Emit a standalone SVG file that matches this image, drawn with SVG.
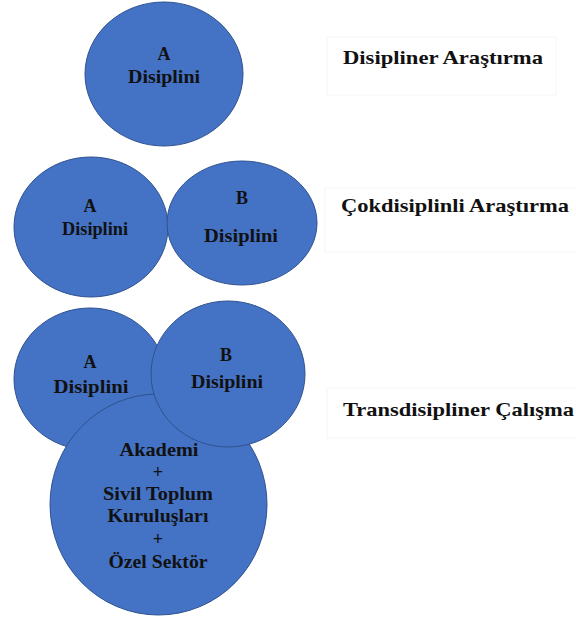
<svg xmlns="http://www.w3.org/2000/svg" width="576" height="618" viewBox="0 0 576 618">
<style>
.c{fill:#4472C4;stroke:#2F528F;stroke-width:1}
.t{font-family:"Liberation Serif","Times New Roman",serif;font-weight:bold;font-size:18px;fill:#111;text-anchor:middle}
.l{font-family:"Liberation Serif","Times New Roman",serif;font-weight:bold;font-size:19px;fill:#111}
.b{fill:none;stroke:#f6f6f6;stroke-width:1}
</style>
<rect width="576" height="618" fill="#fff"/>
<g id="label1"><rect class="b" x="327" y="37" width="229" height="58"/><text class="l" x="343" y="64" textLength="200" lengthAdjust="spacingAndGlyphs">Disipliner Araştırma</text></g>
<g id="label2"><rect class="b" x="325" y="188" width="255" height="64"/><text class="l" x="341" y="212" textLength="228" lengthAdjust="spacingAndGlyphs">Çokdisiplinli Araştırma</text></g>
<g id="label3"><rect class="b" x="327" y="388" width="255" height="50"/><text class="l" x="343" y="416" textLength="231" lengthAdjust="spacingAndGlyphs">Transdisipliner Çalışma</text></g>
<g id="top-a"><ellipse class="c" cx="164" cy="74" rx="79" ry="72"/><text class="t" x="164" y="60">A</text><text class="t" x="164" y="83" textLength="72" lengthAdjust="spacingAndGlyphs">Disiplini</text></g>
<g id="mid-a"><ellipse class="c" cx="91" cy="227" rx="77" ry="70"/><text class="t" x="90" y="212">A</text><text class="t" x="95" y="235" textLength="66" lengthAdjust="spacingAndGlyphs">Disiplini</text></g>
<g id="mid-b"><ellipse class="c" cx="242" cy="223" rx="75" ry="62"/><text class="t" x="242" y="204">B</text><text class="t" x="241" y="242" textLength="74" lengthAdjust="spacingAndGlyphs">Disiplini</text></g>
<g id="bot-a"><ellipse class="c" cx="90" cy="379" rx="76" ry="71"/><text class="t" x="90" y="368">A</text><text class="t" x="91" y="393" textLength="75" lengthAdjust="spacingAndGlyphs">Disiplini</text></g>
<g id="bot-all"><ellipse class="c" cx="158.5" cy="504.5" rx="108.5" ry="110.5"/>
<text class="t" x="159" y="456" textLength="79" lengthAdjust="spacingAndGlyphs">Akademi</text><text class="t" x="158" y="478">+</text><text class="t" x="158" y="500" textLength="110" lengthAdjust="spacingAndGlyphs">Sivil Toplum</text><text class="t" x="158" y="522" textLength="101" lengthAdjust="spacingAndGlyphs">Kuruluşları</text><text class="t" x="158" y="545">+</text><text class="t" x="158" y="568" textLength="99" lengthAdjust="spacingAndGlyphs">Özel Sektör</text></g>
<g id="bot-b"><ellipse class="c" cx="228" cy="374" rx="77" ry="73"/><text class="t" x="226" y="361">B</text><text class="t" x="227" y="388" textLength="72" lengthAdjust="spacingAndGlyphs">Disiplini</text></g>
<g id="connectors"/>
</svg>
